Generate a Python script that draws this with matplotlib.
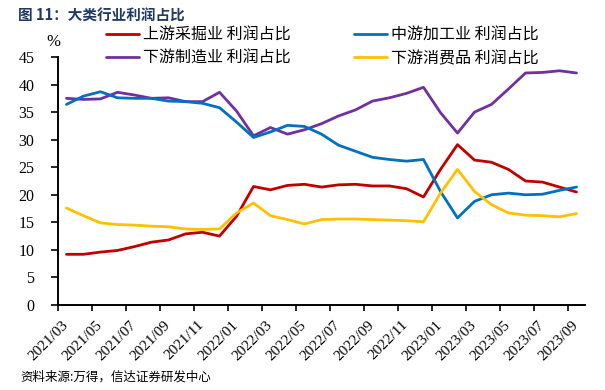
import matplotlib
matplotlib.use("Agg")
import matplotlib.pyplot as plt
import matplotlib.transforms as mtransforms
import numpy as np

# monthly profit share (%) 2021/03 .. 2023/09
upstream = [9.2, 9.2, 9.6, 9.9, 10.6, 11.4, 11.8, 12.9, 13.2, 12.5, 16.1, 21.5, 20.9, 21.7, 21.9, 21.4,
            21.8, 21.9, 21.6, 21.6, 21.1, 19.6, 24.6, 29.1, 26.3, 25.9, 24.6, 22.5, 22.3, 21.4, 20.5]
midstream = [36.4, 37.9, 38.7, 37.6, 37.5, 37.5, 37.0, 36.9, 36.6, 35.8, 33.2, 30.4, 31.4, 32.6, 32.4, 31.0,
             29.0, 27.9, 26.8, 26.4, 26.1, 26.4, 20.6, 15.8, 18.8, 20.0, 20.3, 20.0, 20.1, 20.8, 21.4]
manufacturing = [37.5, 37.3, 37.4, 38.6, 38.1, 37.5, 37.6, 36.9, 36.9, 38.6, 35.2, 30.7, 32.2, 31.0, 31.8, 32.9,
                 34.3, 35.4, 37.0, 37.6, 38.4, 39.5, 34.9, 31.2, 35.0, 36.4, 39.2, 42.1, 42.2, 42.5, 42.1]
consumer = [17.6, 16.2, 14.9, 14.6, 14.5, 14.3, 14.2, 13.8, 13.7, 13.8, 16.7, 18.5, 16.2, 15.5, 14.7, 15.5,
            15.6, 15.6, 15.5, 15.4, 15.3, 15.1, 20.3, 24.6, 20.6, 18.2, 16.7, 16.3, 16.2, 16.0, 16.6]

tick_labels = ["2021/03", "2021/05", "2021/07", "2021/09", "2021/11", "2022/01", "2022/03", "2022/05",
               "2022/07", "2022/09", "2022/11", "2023/01", "2023/03", "2023/05", "2023/07", "2023/09"]

series_names = ["上游采掘业 利润占比", "下游制造业 利润占比", "中游加工业 利润占比", "下游消费品 利润占比"]
series_data = [upstream, manufacturing, midstream, consumer]
series_colors = ["#C00000", "#7030A0", "#0070C0", "#FFC000"]

plt.rcParams["font.family"] = ["Liberation Serif", "Noto Sans CJK SC"]
cjk = ["Noto Sans CJK SC", "DejaVu Sans"]

fig = plt.figure(figsize=(6.05, 3.9), dpi=100)
ax = fig.add_axes([58 / 605, 1 - 305 / 390, (585 - 58) / 605, (305 - 57) / 390])

x = np.arange(len(upstream))
handles = []
for data, color in zip(series_data, series_colors):
    h, = ax.plot(x, data, color=color, lw=2.0, solid_joinstyle="round", solid_capstyle="round")
    handles.append(h)

ax.set_xlim(-0.5, len(x) - 0.5)
ax.set_ylim(0, 45)
ax.set_yticks(np.arange(0, 46, 5))
ax.set_xticks(np.arange(0, len(x), 2) - 0.5)
ax.set_xticklabels(tick_labels, rotation=45, ha="right", va="center", rotation_mode="anchor")
ax.tick_params(axis="x", labelsize=11, length=4, width=1.2, pad=6)
ax.tick_params(axis="y", labelsize=11.5, length=5, width=1.2, pad=12)

# shift the rotated date labels a little to the right, as in the source
shift = mtransforms.ScaledTranslation(8 / 100, -4 / 100, fig.dpi_scale_trans)
for lab in ax.get_xticklabels():
    lab.set_transform(lab.get_transform() + shift)

for s in ["top", "right"]:
    ax.spines[s].set_visible(False)
for s in ["left", "bottom"]:
    ax.spines[s].set_linewidth(1.4)

fig.text(53 / 605, 1 - 42 / 390, "%", fontsize=12, ha="center", va="center")

fig.legend(handles, series_names, ncol=2, loc="upper left", bbox_to_anchor=(106 / 605, 1 - 27 / 390),
           frameon=False, handlelength=2.05, columnspacing=4.0, handletextpad=0.25,
           borderpad=0, borderaxespad=0, labelspacing=0.38, prop={"family": cjk, "size": 11.5})

fig.text(18 / 605, 1 - 16 / 390, "图 11：大类行业利润占比", fontsize=10.5, fontweight="bold",
         color="#1F3864", family=cjk, ha="left", va="center")
fig.text(20 / 605, 1 - 377 / 390, "资料来源:万得，信达证券研发中心", fontsize=9, style="italic",
         family=cjk, ha="left", va="center")

fig.savefig("out.png", dpi=100)
